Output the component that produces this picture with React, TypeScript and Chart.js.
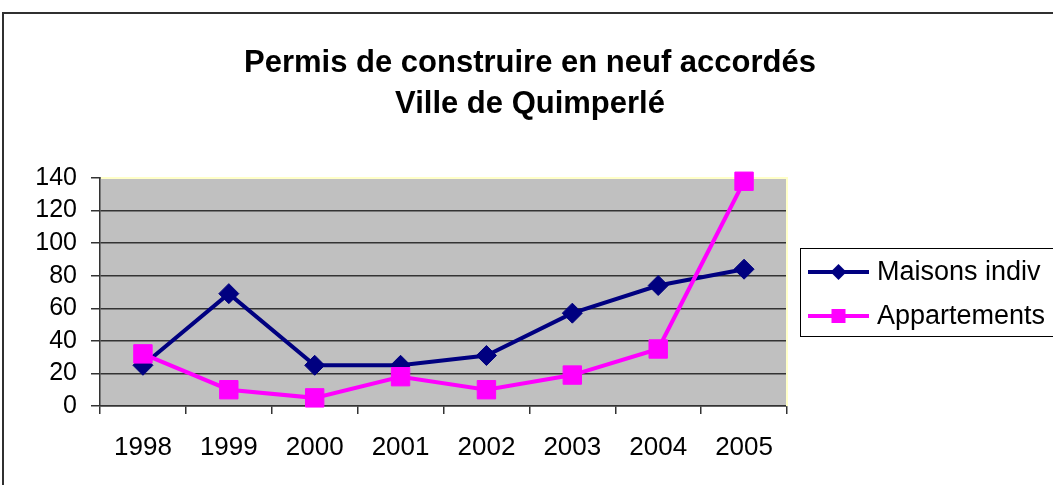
import React, { useEffect, useRef } from "react";
import { Chart, registerables } from "chart.js";

Chart.register(...registerables);

const years = ["1998", "1999", "2000", "2001", "2002", "2003", "2004", "2005"];
const maisons = [25, 69, 25, 25, 31, 57, 74, 84];
const appartements = [32, 10, 5, 18, 10, 19, 35, 138];
const seriesNames = ["Maisons indiv", "Appartements"];
const seriesColors = ["#000080", "#FF00FF"];
const titleLines = ["Permis de construire en neuf accordés", "Ville de Quimperlé"];
const yMin = 0;
const yMax = 140;
const yStep = 20;

const FONT = '"Liberation Sans", Arial, Helvetica, sans-serif';

const decorPlugin = {
  id: "decor",
  beforeDraw(chart: any) {
    const { ctx, chartArea: a, width, height } = chart;
    ctx.save();
    ctx.fillStyle = "#ffffff";
    ctx.fillRect(0, 0, width, height);
    ctx.strokeStyle = "#303030";
    ctx.lineWidth = 2;
    ctx.beginPath();
    ctx.moveTo(3, height + 5);
    ctx.lineTo(3, 13);
    ctx.lineTo(width + 5, 13);
    ctx.stroke();
    ctx.fillStyle = "#C0C0C0";
    ctx.fillRect(a.left, a.top, a.right - a.left, a.bottom - a.top);
    ctx.restore();
  },
  beforeDatasetsDraw(chart: any) {
    const { ctx, chartArea: a } = chart;
    ctx.save();
    ctx.strokeStyle = "#FFFFC8";
    ctx.lineWidth = 2;
    ctx.beginPath();
    ctx.moveTo(a.left + 1, a.top);
    ctx.lineTo(a.right, a.top);
    ctx.lineTo(a.right, a.bottom);
    ctx.stroke();
    ctx.restore();
  },
  afterDraw(chart: any) {
    const { ctx } = chart;
    ctx.save();
    ctx.fillStyle = "#000";
    ctx.font = `bold 31px ${FONT}`;
    ctx.textAlign = "center";
    ctx.textBaseline = "alphabetic";
    ctx.fillText(titleLines[0], 530, 72);
    ctx.fillText(titleLines[1], 530, 113);

    ctx.strokeStyle = "#000";
    ctx.lineWidth = 1;
    ctx.strokeRect(800.5, 248.5, 300, 88);
    const rows = [272, 316];
    const baselines = [280, 324];
    chart.data.datasets.forEach((ds: any, i: number) => {
      const y = rows[i];
      ctx.strokeStyle = ds.borderColor;
      ctx.lineWidth = 4;
      ctx.beginPath();
      ctx.moveTo(808, y);
      ctx.lineTo(869, y);
      ctx.stroke();
      ctx.fillStyle = ds.borderColor;
      const cx = 838.5;
      if (ds.pointStyle === "rectRot") {
        const r = 8;
        ctx.beginPath();
        ctx.moveTo(cx - r, y);
        ctx.lineTo(cx, y - r);
        ctx.lineTo(cx + r, y);
        ctx.lineTo(cx, y + r);
        ctx.closePath();
        ctx.fill();
      } else {
        const h = 7;
        ctx.fillRect(cx - h, y - h, 2 * h, 2 * h);
      }
      ctx.fillStyle = "#000";
      ctx.font = `27px ${FONT}`;
      ctx.textAlign = "left";
      ctx.textBaseline = "alphabetic";
      ctx.fillText(ds.label, 877, baselines[i]);
    });
    ctx.restore();
  },
};

export default function App() {
  const ref = useRef<HTMLCanvasElement>(null);

  useEffect(() => {
    const canvas = ref.current;
    if (!canvas) return;
    const chart = new Chart(canvas, {
      type: "line",
      data: {
        labels: years,
        datasets: [
          {
            label: seriesNames[0],
            data: maisons,
            borderColor: seriesColors[0],
            backgroundColor: seriesColors[0],
            borderWidth: 4,
            pointStyle: "rectRot",
            pointRadius: 10,
            pointBorderWidth: 1,
            pointBackgroundColor: seriesColors[0],
            pointBorderColor: seriesColors[0],
            tension: 0,
            clip: false,
            order: 1,
          } as any,
          {
            label: seriesNames[1],
            data: appartements,
            borderColor: seriesColors[1],
            backgroundColor: seriesColors[1],
            borderWidth: 4,
            pointStyle: "rect",
            pointRadius: 13,
            pointBorderWidth: 1,
            pointBackgroundColor: seriesColors[1],
            pointBorderColor: seriesColors[1],
            tension: 0,
            clip: false,
            order: 0,
          } as any,
        ],
      },
      options: {
        animation: false,
        responsive: false,
        maintainAspectRatio: false,
        devicePixelRatio: 1,
        layout: { padding: { top: 178, right: 266, bottom: 0, left: 0 } },
        plugins: {
          legend: { display: false },
          title: { display: false },
          tooltip: { enabled: false },
        },
        events: [],
        scales: {
          x: {
            offset: true,
            grid: {
              offset: true,
              drawOnChartArea: false,
              drawTicks: true,
              tickLength: 8,
              color: "#333333",
              lineWidth: 1.5,
            },
            border: { color: "#333333", width: 1.5 },
            ticks: {
              color: "#000",
              font: { family: FONT, size: 26 },
              padding: 18,
              maxRotation: 0,
              autoSkip: false,
            },
            afterFit: (s: any) => {
              s.height = 79;
            },
          },
          y: {
            min: yMin,
            max: yMax,
            grid: {
              color: "#333333",
              lineWidth: 1.5,
              tickLength: 9,
              drawTicks: true,
            },
            border: { color: "#333333", width: 1.5 },
            ticks: {
              stepSize: yStep,
              color: "#000",
              font: { family: FONT, size: 25 },
              padding: 14,
              autoSkip: false,
            },
            afterFit: (s: any) => {
              s.width = 100;
            },
          },
        },
      },
      plugins: [decorPlugin],
    });
    return () => chart.destroy();
  }, []);

  return (
    <div style={{ position: "fixed", left: 0, top: 0, width: 1053, height: 485 }}>
      <canvas ref={ref} width={1053} height={485} style={{ display: "block", width: 1053, height: 485 }} />
    </div>
  );
}
